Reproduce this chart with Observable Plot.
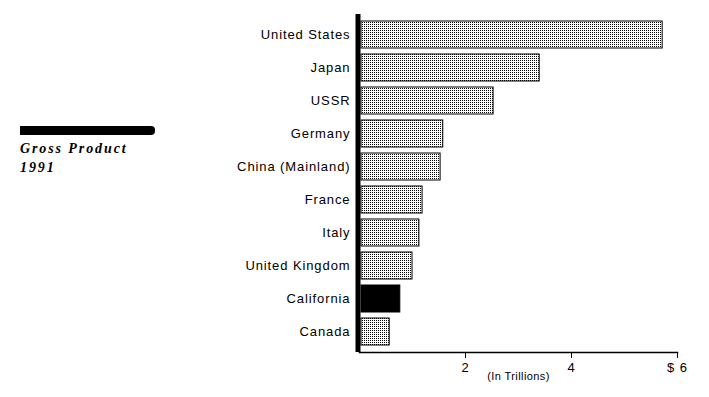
<!DOCTYPE html>
<html>
<head>
<meta charset="utf-8">
<script src="https://cdn.jsdelivr.net/npm/d3@7"></script>
<script src="https://cdn.jsdelivr.net/npm/@observablehq/plot@0.6"></script>
<style>
  body { margin: 0; background: #fff; }
  #wrap { position: relative; width: 709px; height: 397px; }
  #wrap svg { position: absolute; left: 0; top: 0; }
  #titlebar { position: absolute; z-index: 2; left: 20px; top: 126px; width: 135px; height: 9px; background: #000; border-radius: 0 4px 4px 0; }
  #title { position: absolute; z-index: 2; left: 20px; top: 139px; font-family: "Liberation Serif", serif; font-weight: bold; font-style: italic; font-size: 14px; letter-spacing: 1.9px; line-height: 19px; color: #000; }
  g[aria-label="y-axis tick label"], g[aria-label="x-axis tick label"] { letter-spacing: 0.9px; }
  g[aria-label="text"] { letter-spacing: 0.4px; }
</style>
</head>
<body>
<svg width="0" height="0" style="position:absolute">
  <defs>
    <pattern id="dots" width="2" height="2" patternUnits="userSpaceOnUse">
      <rect width="2" height="2" fill="#fff"></rect>
      <rect width="1" height="1" fill="#000"></rect>
    </pattern>
  </defs>
</svg>
<div id="wrap">
  <div id="titlebar"></div>
  <div id="title">Gross Product<br>1991</div>
</div>
<script>
const countries = ["United States", "Japan", "USSR", "Germany", "China (Mainland)", "France", "Italy", "United Kingdom", "California", "Canada"];
const values = [5.72, 3.40, 2.53, 1.58, 1.53, 1.19, 1.13, 1.00, 0.77, 0.57];
const highlighted = ["California"];
const xTicks = [2, 4, 6];
const xTickLabels = ["2", "4", "$ 6"];
const unitLabel = "(In Trillions)";

const data = countries.map((c, i) => ({country: c, value: values[i]}));

const chart = Plot.plot({
  width: 709,
  height: 397,
  marginLeft: 359,
  marginRight: 32,
  marginTop: 14,
  marginBottom: 45,
  style: {fontFamily: "Liberation Sans, Arial, sans-serif", background: "#fff", color: "#000"},
  x: {domain: [0, 6]},
  y: {domain: countries, paddingInner: 0.18, paddingOuter: 0.11},
  marks: [
    Plot.barX(data, {
      y: "country",
      x: "value",
      fill: d => highlighted.includes(d.country) ? "#000" : "url(#dots)",
      stroke: "#000",
      strokeWidth: 1,
      insetLeft: 2
    }),
    Plot.frame({anchor: "bottom", stroke: "#000", strokeWidth: 1.5}),
    Plot.ruleX([0], {stroke: "#000", strokeWidth: 5, dx: -1.5}),
    Plot.axisY({tickSize: 0, tickPadding: 9, fontSize: 13, label: null}),
    Plot.axisX({ticks: xTicks, tickFormat: d => xTickLabels[xTicks.indexOf(d)], tickSize: 6, tickPadding: 4, fontSize: 13, label: null}),
    Plot.text([unitLabel], {frameAnchor: "bottom", dy: 27, fontSize: 11})
  ]
});
document.getElementById("wrap").appendChild(chart);
</script>
</body>
</html>
